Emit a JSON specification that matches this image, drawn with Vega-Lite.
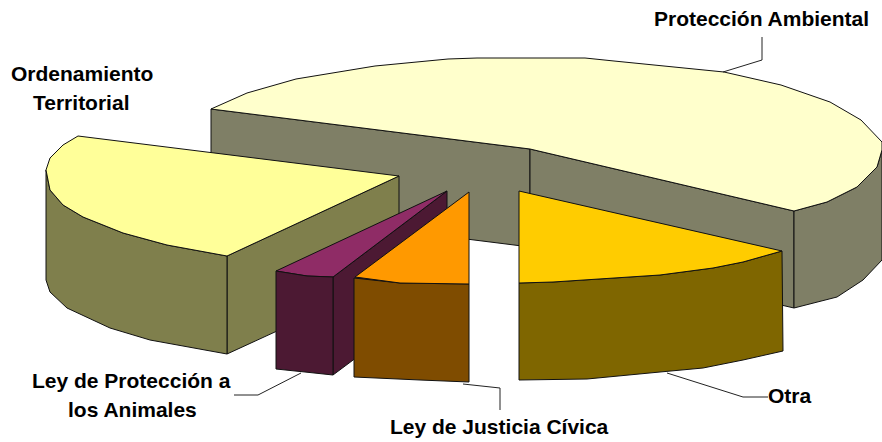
{"$schema":"https://vega.github.io/schema/vega-lite/v6.json","width":882,"height":442,"padding":0,"autosize":{"type":"none"},"background":"white","view":{"stroke":null},
"config":{"axis":{"disable":true}},
"datasets":{"caras":[
{"p":"PA lateral izq","i":1,"x":211,"y":109},{"p":"PA lateral izq","i":2,"x":530,"y":149},{"p":"PA lateral izq","i":3,"x":530,"y":247},{"p":"PA lateral izq","i":4,"x":211,"y":207},{"p":"PA lateral izq","i":5,"x":211,"y":109},
{"p":"PA lateral der","i":1,"x":530,"y":149},{"p":"PA lateral der","i":2,"x":794,"y":211},{"p":"PA lateral der","i":3,"x":794,"y":308},{"p":"PA lateral der","i":4,"x":530,"y":247},{"p":"PA lateral der","i":5,"x":530,"y":149},
{"p":"PA exterior","i":1,"x":794,"y":211},{"p":"PA exterior","i":2,"x":827,"y":202},{"p":"PA exterior","i":3,"x":857,"y":187},{"p":"PA exterior","i":4,"x":877,"y":167},{"p":"PA exterior","i":5,"x":882,"y":150},{"p":"PA exterior","i":6,"x":882,"y":260},{"p":"PA exterior","i":7,"x":863,"y":280},{"p":"PA exterior","i":8,"x":837,"y":297},{"p":"PA exterior","i":9,"x":794,"y":308},{"p":"PA exterior","i":10,"x":794,"y":211},
{"p":"PA superficie","i":1,"x":211,"y":109},{"p":"PA superficie","i":2,"x":247,"y":93},{"p":"PA superficie","i":3,"x":296,"y":79},{"p":"PA superficie","i":4,"x":375,"y":66},{"p":"PA superficie","i":5,"x":448,"y":59},{"p":"PA superficie","i":6,"x":477,"y":58},{"p":"PA superficie","i":7,"x":585,"y":58},{"p":"PA superficie","i":8,"x":614,"y":61},{"p":"PA superficie","i":9,"x":724,"y":72},{"p":"PA superficie","i":10,"x":781,"y":85},{"p":"PA superficie","i":11,"x":830,"y":102},{"p":"PA superficie","i":12,"x":861,"y":120},{"p":"PA superficie","i":13,"x":882,"y":142},{"p":"PA superficie","i":14,"x":882,"y":150},{"p":"PA superficie","i":15,"x":877,"y":167},{"p":"PA superficie","i":16,"x":857,"y":187},{"p":"PA superficie","i":17,"x":827,"y":202},{"p":"PA superficie","i":18,"x":794,"y":211},{"p":"PA superficie","i":19,"x":530,"y":149},{"p":"PA superficie","i":20,"x":211,"y":109},
{"p":"OT lateral","i":1,"x":227,"y":256},{"p":"OT lateral","i":2,"x":399,"y":176},{"p":"OT lateral","i":3,"x":399,"y":275},{"p":"OT lateral","i":4,"x":227,"y":354},{"p":"OT lateral","i":5,"x":227,"y":256},
{"p":"OT exterior","i":1,"x":46,"y":170},{"p":"OT exterior","i":2,"x":50,"y":190},{"p":"OT exterior","i":3,"x":63,"y":205},{"p":"OT exterior","i":4,"x":83,"y":217},{"p":"OT exterior","i":5,"x":123,"y":233},{"p":"OT exterior","i":6,"x":167,"y":245},{"p":"OT exterior","i":7,"x":227,"y":256},{"p":"OT exterior","i":8,"x":227,"y":354},{"p":"OT exterior","i":9,"x":150,"y":340},{"p":"OT exterior","i":10,"x":110,"y":328},{"p":"OT exterior","i":11,"x":67,"y":308},{"p":"OT exterior","i":12,"x":50,"y":292},{"p":"OT exterior","i":13,"x":46,"y":280},{"p":"OT exterior","i":14,"x":46,"y":170},
{"p":"OT superficie","i":1,"x":78,"y":136},{"p":"OT superficie","i":2,"x":399,"y":176},{"p":"OT superficie","i":3,"x":227,"y":256},{"p":"OT superficie","i":4,"x":167,"y":245},{"p":"OT superficie","i":5,"x":123,"y":233},{"p":"OT superficie","i":6,"x":83,"y":217},{"p":"OT superficie","i":7,"x":63,"y":205},{"p":"OT superficie","i":8,"x":50,"y":190},{"p":"OT superficie","i":9,"x":46,"y":170},{"p":"OT superficie","i":10,"x":50,"y":158},{"p":"OT superficie","i":11,"x":63,"y":145},{"p":"OT superficie","i":12,"x":78,"y":136},
{"p":"LPA lateral","i":1,"x":333,"y":277},{"p":"LPA lateral","i":2,"x":447,"y":191},{"p":"LPA lateral","i":3,"x":447,"y":290},{"p":"LPA lateral","i":4,"x":333,"y":375},{"p":"LPA lateral","i":5,"x":333,"y":277},
{"p":"LPA superficie","i":1,"x":447,"y":191},{"p":"LPA superficie","i":2,"x":333,"y":277},{"p":"LPA superficie","i":3,"x":307,"y":276},{"p":"LPA superficie","i":4,"x":276,"y":271},{"p":"LPA superficie","i":5,"x":447,"y":191},
{"p":"LPA exterior","i":1,"x":276,"y":271},{"p":"LPA exterior","i":2,"x":307,"y":276},{"p":"LPA exterior","i":3,"x":333,"y":277},{"p":"LPA exterior","i":4,"x":333,"y":375},{"p":"LPA exterior","i":5,"x":305,"y":372},{"p":"LPA exterior","i":6,"x":276,"y":369},{"p":"LPA exterior","i":7,"x":276,"y":271},
{"p":"LJC exterior","i":1,"x":354,"y":278},{"p":"LJC exterior","i":2,"x":400,"y":283},{"p":"LJC exterior","i":3,"x":469,"y":284},{"p":"LJC exterior","i":4,"x":469,"y":382},{"p":"LJC exterior","i":5,"x":420,"y":380},{"p":"LJC exterior","i":6,"x":354,"y":377},{"p":"LJC exterior","i":7,"x":354,"y":278},
{"p":"LJC superficie","i":1,"x":469,"y":192},{"p":"LJC superficie","i":2,"x":469,"y":284},{"p":"LJC superficie","i":3,"x":400,"y":283},{"p":"LJC superficie","i":4,"x":355,"y":277},{"p":"LJC superficie","i":5,"x":469,"y":192},
{"p":"Otra exterior","i":1,"x":519,"y":283},{"p":"Otra exterior","i":2,"x":553,"y":282},{"p":"Otra exterior","i":3,"x":660,"y":275},{"p":"Otra exterior","i":4,"x":713,"y":268},{"p":"Otra exterior","i":5,"x":743,"y":262},{"p":"Otra exterior","i":6,"x":782,"y":251},{"p":"Otra exterior","i":7,"x":783,"y":351},{"p":"Otra exterior","i":8,"x":743,"y":360},{"p":"Otra exterior","i":9,"x":703,"y":368},{"p":"Otra exterior","i":10,"x":660,"y":372},{"p":"Otra exterior","i":11,"x":587,"y":379},{"p":"Otra exterior","i":12,"x":519,"y":380},{"p":"Otra exterior","i":13,"x":519,"y":283},
{"p":"Otra superficie","i":1,"x":519,"y":191},{"p":"Otra superficie","i":2,"x":782,"y":251},{"p":"Otra superficie","i":3,"x":743,"y":262},{"p":"Otra superficie","i":4,"x":713,"y":268},{"p":"Otra superficie","i":5,"x":660,"y":275},{"p":"Otra superficie","i":6,"x":553,"y":282},{"p":"Otra superficie","i":7,"x":519,"y":283},{"p":"Otra superficie","i":8,"x":519,"y":191}
],
"guias":[
{"g":"PA","i":1,"x":762,"y":37},{"g":"PA","i":2,"x":762,"y":60},{"g":"PA","i":3,"x":723,"y":72},
{"g":"LPA","i":1,"x":234,"y":395},{"g":"LPA","i":2,"x":258,"y":395},{"g":"LPA","i":3,"x":301,"y":373},
{"g":"LJC","i":1,"x":500,"y":410},{"g":"LJC","i":2,"x":500,"y":388},{"g":"LJC","i":3,"x":463,"y":384},
{"g":"Otra","i":1,"x":768,"y":397},{"g":"Otra","i":2,"x":743,"y":397},{"g":"Otra","i":3,"x":667,"y":373}
],
"rotulos":[
{"t":"Protección Ambiental","x":654,"y":20},
{"t":"Ordenamiento","x":11,"y":75},
{"t":"Territorial","x":33,"y":104},
{"t":"Ley de Protección a","x":32,"y":382},
{"t":"los Animales","x":68,"y":411},
{"t":"Ley de Justicia Cívica","x":390,"y":428},
{"t":"Otra","x":768,"y":397}
]},
"layer":[
{"data":{"name":"caras"},"mark":{"type":"line","filled":true,"stroke":"#111111","strokeWidth":1,"strokeJoin":"miter","clip":true},
"encoding":{"x":{"field":"x","type":"quantitative","scale":{"domain":[0,882],"range":[0,882],"nice":false,"zero":false},"axis":null},
"y":{"field":"y","type":"quantitative","scale":{"domain":[442,0],"range":[442,0],"nice":false,"zero":false},"axis":null},
"order":{"field":"i","type":"quantitative"},
"detail":{"field":"p"},
"fill":{"field":"p","type":"nominal","legend":null,"scale":{
"domain":["PA lateral izq","PA lateral der","PA exterior","PA superficie","OT lateral","OT exterior","OT superficie","LPA lateral","LPA superficie","LPA exterior","LJC exterior","LJC superficie","Otra exterior","Otra superficie"],
"range":["#7F7F66","#7F7F66","#7F7F66","#FFFFCC","#7F7F4C","#7F7F4C","#FFFF99","#4C1933","#8F2C66","#4C1933","#7F4C00","#FF9900","#7F6600","#FFCC00"]}}}},
{"data":{"name":"guias"},"mark":{"type":"line","stroke":"#222222","strokeWidth":1},
"encoding":{"x":{"field":"x","type":"quantitative","scale":{"domain":[0,882],"range":[0,882],"nice":false,"zero":false},"axis":null},
"y":{"field":"y","type":"quantitative","scale":{"domain":[442,0],"range":[442,0],"nice":false,"zero":false},"axis":null},
"order":{"field":"i","type":"quantitative"},"detail":{"field":"g"}}},
{"data":{"name":"rotulos"},"mark":{"type":"text","font":"Liberation Sans","fontWeight":"bold","fontSize":21,"align":"left","baseline":"middle","color":"#000000"},
"encoding":{"x":{"field":"x","type":"quantitative","scale":{"domain":[0,882],"range":[0,882],"nice":false,"zero":false},"axis":null},
"y":{"field":"y","type":"quantitative","scale":{"domain":[442,0],"range":[442,0],"nice":false,"zero":false},"axis":null},
"text":{"field":"t"}}}
]}
